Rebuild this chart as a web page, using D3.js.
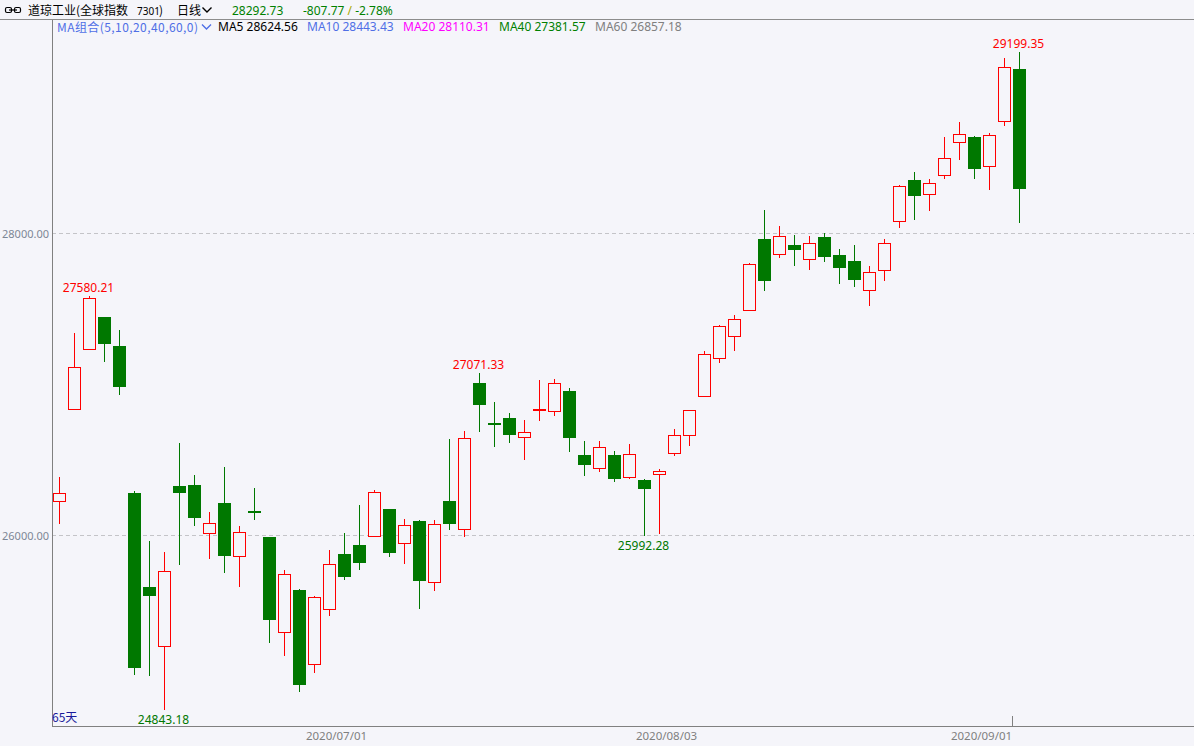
<!DOCTYPE html>
<html><head><meta charset="utf-8">
<script src="https://cdn.jsdelivr.net/npm/d3@7/dist/d3.min.js"></script>
<style>html,body{margin:0;padding:0;background:#f5f5fa;overflow:hidden}svg{display:block}</style>
</head><body>
<script>
// ---------------- data ----------------
const dates = [
"2020/06/04","2020/06/05","2020/06/08","2020/06/09","2020/06/10","2020/06/11","2020/06/12","2020/06/15","2020/06/16","2020/06/17",
"2020/06/18","2020/06/19","2020/06/22","2020/06/23","2020/06/24","2020/06/25","2020/06/26","2020/06/29","2020/06/30",
"2020/07/01","2020/07/02","2020/07/06","2020/07/07","2020/07/08","2020/07/09","2020/07/10","2020/07/13","2020/07/14","2020/07/15",
"2020/07/16","2020/07/17","2020/07/20","2020/07/21","2020/07/22","2020/07/23","2020/07/24","2020/07/27","2020/07/28","2020/07/29",
"2020/07/30","2020/07/31",
"2020/08/03","2020/08/04","2020/08/05","2020/08/06","2020/08/07","2020/08/10","2020/08/11","2020/08/12","2020/08/13","2020/08/14",
"2020/08/17","2020/08/18","2020/08/19","2020/08/20","2020/08/21","2020/08/24","2020/08/25","2020/08/26","2020/08/27","2020/08/28",
"2020/08/31","2020/09/01","2020/09/02","2020/09/03"];
const open  = [26225,26834,27230,27442,27250,26278,25656,25266,26324,26331,
26013,26212,25861,26159,25987,25358,25636,25147,25510,
25874,25934,25993,26172,25947,26093,25689,26225,26040,27005,
26741,26774,26648,26830,26820,26953,26529,26443,26529,26384,
26364,26404,
26542,26662,26920,27171,27316,27488,27958,27859,27918,27826,
27971,27852,27813,27621,27753,28077,28348,28256,28381,28600,
28639,28441,28739,29089];
const high  = [26384,27336,27580.21,27445,27356,26291,25960,25888,26609,26397,
26152,26450,26060,26311,25990,25768,25640,25597,25901,
26013,26198,26298,26175,26106,26099,26099,26635,26688,27071.33,
26880,26807,26761,27025,27032,26972,26622,26622,26556,26602,
26370,26437,
26701,26830,27217,27389,27455,27799,28150,28044,27985,27978,
27998,27892,27918,27780,27958,28315,28401,28355,28633,28732,
28640,28659,29162,29199.35];
const low   = [26073,26830,27225,27144,26926,25074,25067,24843.18,25802,26060,
25841,25749,25656,26099,25286,25200,24961,25087,25464,
25702,25768,25990,25854,25808,25510,25630,26033,25987,26681,
26582,26609,26496,26754,26787,26549,26390,26417,26351,26370,
25992.28,26007,
26523,26589,26918,27138,27217,27485,27614,27832,27780,27753,
27806,27660,27641,27515,27680,28031,28084,28143,28355,28481,
28355,28282,28706,28064];
const close = [26278,27111,27568,27264,26979,25120,25597,25762,26278,26112,
26079,25861,26020,26146,25438,25742,25008,25590,25808,
25722,25815,26284,25881,26066,25696,26073,26073,26642,26860,
26731,26662,26681,26837,27005,26642,26463,26582,26370,26536,
26304,26423,
26662,26827,27197,27383,27429,27793,27680,27978,27885,27932,
27839,27766,27687,27740,27932,28309,28243,28329,28494,28653,
28421,28646,29100.50,28292.73];
const yTicks = [26000, 28000];
const xTickLabels = ["2020/07/01","2020/08/03","2020/09/01"];
const highMarks = ["2020/06/08","2020/07/15","2020/09/03"];
const lowMarks  = ["2020/06/15","2020/07/30"];
const maNames  = ["MA5","MA10","MA20","MA40","MA60"];
const maValues = [28624.56, 28443.43, 28110.31, 27381.57, 26857.18];
const maColors = ["#000000","#4f6fe6","#ff00ff","#008000","#808080"];
const lastClose = 28292.73, change = -807.77, changePct = -2.78;
const titleText = "道琼工业(全球指数", codeText = "7301", periodText = "日线";
const maGroupText = "MA组合(5,10,20,40,60,0)";

// ---------------- layout ----------------
const W = 1194, H = 746;
const plotLeft = 52, plotBottom = 726, plotTop = 19;
const step = 15;
const RED = "#ff0000", GREEN = "#007800", BG = "#f5f5fa";
const numFont = "'Noto Sans', 'DejaVu Sans', sans-serif";
const cjkFont = "'Noto Sans CJK SC', 'Noto Sans', sans-serif";
const f2 = v => v.toFixed(2);

const svg = d3.select("body").append("svg").attr("width", W).attr("height", H)
  .style("background", BG);

const x = d3.scaleBand().domain(dates).range([plotLeft, plotLeft + dates.length * step]).paddingInner(0).paddingOuter(0);
const y = d3.scaleLinear().domain([26000, 28000]).range([535, 233]);
const cx = d => x(d) + step / 2;

// header
const hdr = svg.append("g");
hdr.append("line").attr("x1", 0).attr("x2", W).attr("y1", 19.5).attr("y2", 19.5)
  .attr("stroke", "#8c8c8c").attr("stroke-width", 1);
// link icon
hdr.append("rect").attr("x", 5.5).attr("y", 7.5).attr("width", 6).attr("height", 5).attr("rx", 1.5)
  .attr("fill", "none").attr("stroke", "#000").attr("stroke-width", 1.2);
hdr.append("rect").attr("x", 14.5).attr("y", 7.5).attr("width", 6).attr("height", 5).attr("rx", 1.5)
  .attr("fill", "none").attr("stroke", "#000").attr("stroke-width", 1.2);
hdr.append("line").attr("x1", 9).attr("x2", 17).attr("y1", 10).attr("y2", 10)
  .attr("stroke", "#000").attr("stroke-width", 1.2);

const row1Y = 14.5, row2Y = 31.5;
hdr.append("text").attr("x", 28).attr("y", row1Y).attr("font-family", cjkFont)
  .attr("font-size", 12).attr("fill", "#000").text(titleText);
hdr.append("text").attr("x", 137).attr("y", row1Y).attr("font-family", numFont)
  .attr("font-size", 10).attr("fill", "#000").text(codeText);
hdr.append("text").attr("x", 159).attr("y", row1Y).attr("font-family", cjkFont)
  .attr("font-size", 12).attr("fill", "#000").text(")");
hdr.append("text").attr("x", 177).attr("y", row1Y).attr("font-family", cjkFont)
  .attr("font-size", 12).attr("fill", "#000").text(periodText);
const chevron = (x0, y0, col) => hdr.append("path")
  .attr("d", `M${x0},${y0} L${x0 + 4.5},${y0 + 4.5} L${x0 + 9},${y0}`)
  .attr("fill", "none").attr("stroke", col).attr("stroke-width", 1.4);
chevron(202.5, 7.5, "#000");

hdr.append("text").attr("x", 232).attr("y", 15).attr("font-family", numFont).attr("font-size", 12)
  .attr("fill", "#008000").text(f2(lastClose));
const t2 = hdr.append("text").attr("x", 303).attr("y", 15).attr("font-family", numFont).attr("font-size", 12)
  .attr("fill", "#008000");
t2.append("tspan").text(f2(change));
t2.append("tspan").attr("fill", "#a8a800").text(" / ");
t2.append("tspan").text(f2(changePct) + "%");

// MA row
hdr.append("text").attr("x", 57).attr("y", row2Y).attr("font-family", cjkFont).attr("font-size", 12)
  .attr("textLength", 141).attr("lengthAdjust", "spacing")
  .attr("fill", "#4f6fe6").text(maGroupText);
chevron(202, 24.5, "#4f6fe6");
const maX = [218, 307, 403, 499, 595];
maNames.forEach((n, i) => {
  hdr.append("text").attr("x", maX[i]).attr("y", 31).attr("font-family", numFont)
    .attr("font-size", 12).attr("fill", maColors[i])
    .text(n + " " + f2(maValues[i]));
});

// grid + y labels
const grid = svg.append("g");
yTicks.forEach(v => {
  const yy = Math.round(y(v)) + 0.5;
  grid.append("line").attr("x1", plotLeft).attr("x2", W).attr("y1", yy).attr("y2", yy)
    .attr("stroke", "#c4c4c8").attr("stroke-dasharray", "4,3");
  grid.append("text").attr("x", 49).attr("y", yy + 4).attr("text-anchor", "end")
    .attr("font-family", numFont).attr("font-size", 11).attr("fill", "#7d8796")
    .text(f2(v));
});

// axes lines
svg.append("line").attr("x1", plotLeft + 0.5).attr("x2", plotLeft + 0.5).attr("y1", plotTop + 1).attr("y2", plotBottom + 0.5)
  .attr("stroke", "#808080");
svg.append("line").attr("x1", plotLeft).attr("x2", W).attr("y1", plotBottom + 0.5).attr("y2", plotBottom + 0.5)
  .attr("stroke", "#808080");
// x labels
xTickLabels.forEach(d => {
  svg.append("text").attr("x", x(d) - 0.5).attr("y", 740).attr("text-anchor", "middle")
    .attr("font-family", numFont).attr("font-size", 11.5).attr("fill", "#7f7f7f").text(d);
});
// last-day marker tick
const lastX = x(dates[dates.length - 1]) + 0.5;
svg.append("line").attr("x1", lastX).attr("x2", lastX)
  .attr("y1", 716).attr("y2", plotBottom).attr("stroke", "#808080");

svg.append("text").attr("x", 52).attr("y", 722).attr("font-family", cjkFont).attr("font-size", 12)
  .attr("fill", "#1a1a9a").text(dates.length + "天");

// candles
const data = dates.map((d, i) => ({ d, o: open[i], h: high[i], l: low[i], c: close[i], up: close[i] >= open[i] }));
const cg = svg.append("g").attr("shape-rendering", "crispEdges");
const R = v => Math.round(y(v));

data.forEach(k => {
  const xc = Math.floor(cx(k.d)) + 0.5;
  const yh = R(k.h), yl = R(k.l);
  const yt = R(Math.max(k.o, k.c)), yb = R(Math.min(k.o, k.c));
  if (k.up) {
    if (yh < yt) cg.append("line").attr("x1", xc).attr("x2", xc).attr("y1", yh).attr("y2", yt).attr("stroke", RED);
    if (yl > yb) cg.append("line").attr("x1", xc).attr("x2", xc).attr("y1", yb).attr("y2", yl).attr("stroke", RED);
    const hgt = Math.max(1, yb - yt);
    cg.append("rect").attr("x", xc - 6).attr("y", yt + 0.5).attr("width", 12).attr("height", hgt)
      .attr("fill", hgt <= 2 ? RED : BG).attr("stroke", RED).attr("stroke-width", 1);
  } else {
    cg.append("line").attr("x1", xc).attr("x2", xc).attr("y1", yh).attr("y2", yl).attr("stroke", GREEN);
    const hgt = Math.max(2, yb - yt);
    cg.append("rect").attr("x", xc - 6.5).attr("y", yt).attr("width", 13).attr("height", hgt)
      .attr("fill", GREEN);
  }
});

// extreme labels
highMarks.forEach(d => {
  const k = data[dates.indexOf(d)];
  svg.append("text").attr("x", cx(k.d) - 1).attr("y", y(k.h) - 4).attr("text-anchor", "middle")
    .attr("font-family", numFont).attr("font-size", 12).attr("fill", RED).text(f2(k.h));
});
lowMarks.forEach(d => {
  const k = data[dates.indexOf(d)];
  svg.append("text").attr("x", cx(k.d) - 1).attr("y", y(k.l) + 14).attr("text-anchor", "middle")
    .attr("font-family", numFont).attr("font-size", 12).attr("fill", GREEN).text(f2(k.l));
});
</script>
</body></html>
